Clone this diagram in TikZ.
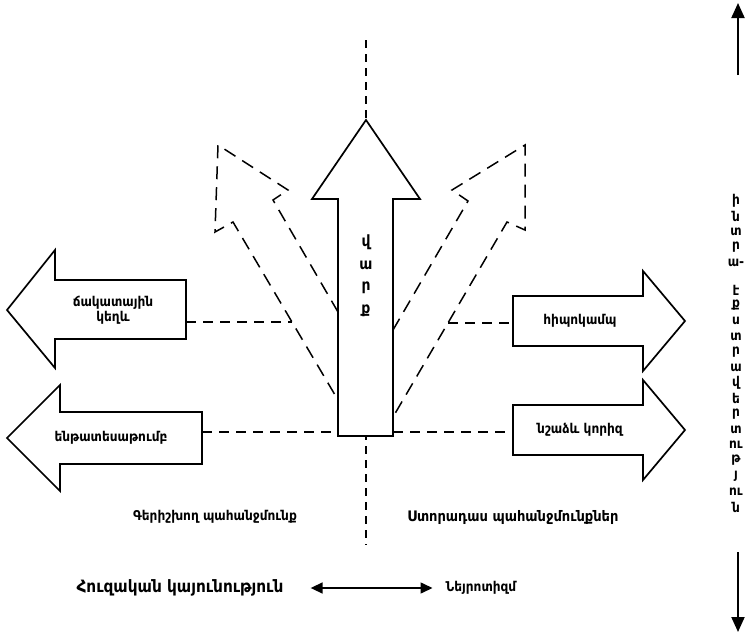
\documentclass[tikz,border=0pt]{standalone}
\usepackage{fontspec}
\setmainfont{DejaVu Sans}
\newfontfamily\armfont{DejaVu Sans Condensed}
\usetikzlibrary{arrows.meta,positioning}

\begin{document}
\begin{tikzpicture}[
  x=1pt, y=-1pt,
  font=\armfont\bfseries\fontsize{13.5}{15.5}\selectfont,
  >={Triangle[length=12pt,width=11pt]},
  blockarrow/.style={draw=black, line width=1.7pt, fill=white, line join=miter},
  ghostarrow/.style={draw=black, line width=1.5pt, dash pattern=on 13pt off 8pt},
  link/.style={draw=black, line width=1.4pt, dash pattern=on 10pt off 7pt},
  axisline/.style={draw=black, line width=1.4pt, dash pattern=on 8pt off 6pt},
  label/.style={inner sep=1pt, align=center},
  letter/.style={inner sep=0pt, font=\armfont\bfseries\fontsize{13.5}{14}\selectfont},
  scalearrow/.style={->, line width=2pt, >={Triangle[length=15pt,width=13pt]}}
]
  \useasboundingbox (0,0) rectangle (748,635);

  % dashed axis behind the upward arrow
  \coordinate (axis-top) at (366,40);
  \coordinate (axis-bot) at (366,545);
  \draw[axisline] (axis-top) -- (axis-bot);

  % tilted dashed arrows
  \draw[ghostarrow] (338,312) -- (273,200) -- (288,190) -- (218,145)
    -- (215,232) -- (233,222) -- (338,400);
  \draw[ghostarrow] (393,330) -- (468,201) -- (452,190) -- (525,145)
    -- (525,230) -- (507,222) -- (393,417);
  \coordinate (ghost-l) at (292,322);
  \coordinate (ghost-r) at (448,323);

  % dashed links to the side arrows
  \coordinate (frontal-e) at (186,322);
  \coordinate (thalamus-e) at (202,432);
  \coordinate (hippo-w) at (513,323);
  \coordinate (amygdala-w) at (513,432);
  \coordinate (core-w) at (338,432);
  \coordinate (core-e) at (393,432);
  \draw[link] (frontal-e) -- (ghost-l);
  \draw[link] (thalamus-e) -- (core-w);
  \draw[link] (ghost-r) -- (hippo-w);
  \draw[link] (core-e) -- (amygdala-w);

  % upward arrow
  \draw[blockarrow] (366,120) -- (420,199) -- (393,199) -- (393,436)
    -- (338,436) -- (338,199) -- (312,199) -- cycle;
  \foreach \ch [count=\i] in {վ,ա,ր,ք}
    \node[inner sep=0pt, font=\armfont\bfseries\fontsize{15.5}{17}\selectfont] (core-\i) at (366,219+23*\i) {\ch};

  % arrows to the left
  \draw[blockarrow] (7,310) -- (55,250) -- (55,280) -- (186,280) -- (186,339)
    -- (55,339) -- (55,368) -- cycle;
  \node[label] (frontal) at (113,310) {ճակատային\\կեղև};

  \draw[blockarrow] (7,438) -- (60,385) -- (60,412) -- (202,412) -- (202,464)
    -- (60,464) -- (60,491) -- cycle;
  \node[label] (thalamus) at (111,438) {ենթատեսաթումբ};

  % arrows to the right
  \draw[blockarrow] (685,321) -- (643,271) -- (643,296) -- (513,296) -- (513,346)
    -- (643,346) -- (643,371) -- cycle;
  \node[label] (hippo) at (580,321) {հիպոկամպ};

  \draw[blockarrow] (685,430) -- (643,380) -- (643,405) -- (513,405) -- (513,455)
    -- (643,455) -- (643,480) -- cycle;
  \node[label] (amygdala) at (580,430) {նշաձև կորիզ};

  % needs under the arrows
  \node[label] (dominant) at (215,517) {Գերիշխող պահանջմունք};
  \node[label, font=\armfont\bfseries\fontsize{14.5}{16}\selectfont] (minor) at (513,517) {Ստորադաս պահանջմունքներ};

  % bottom scale
  \node[label, font=\armfont\bfseries\fontsize{17}{19}\selectfont] (stable) at (180,588) {Հուզական կայունություն};
  \node[label] (neuro) at (481,588) {Նեյրոտիզմ};
  \draw[<->, line width=1.6pt, shorten <=26pt, shorten >=12pt] (stable) -- (neuro);

  % right scale
  \foreach \ch [count=\i] in {ի,ն,տ,ր,ա-}
    \node[letter] (intro-\i) at (736,185.5+15.5*\i) {\ch};
  \foreach \ch [count=\i] in {է,ք,ս,տ,ր,ա,վ,ե,ր,տ,ու,թ,յ,ու,ն}
    \node[letter] (extra-\i) at (736,274.5+15.5*\i) {\ch};
  \coordinate (scale-top) at (738,3);
  \coordinate (scale-bot) at (738,632);
  \draw[scalearrow] (738,75) -- (scale-top);
  \draw[scalearrow] (738,552) -- (scale-bot);
\end{tikzpicture}
\end{document}
